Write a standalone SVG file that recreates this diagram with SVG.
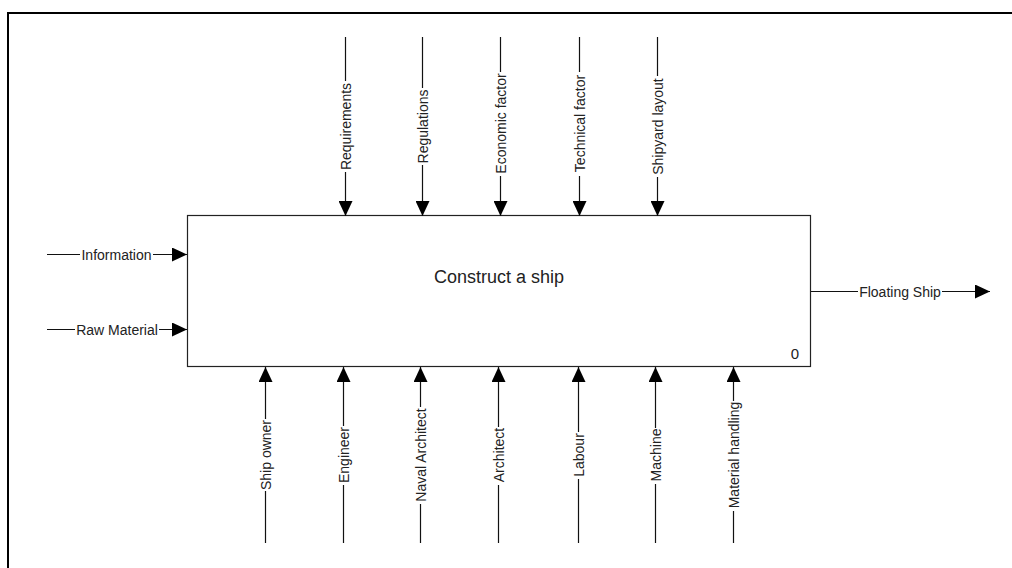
<svg xmlns="http://www.w3.org/2000/svg" width="1012" height="568" viewBox="0 0 1012 568">
  <style>
    .frame { fill: none; stroke: #000; stroke-width: 2; }
    .box { fill: #fff; stroke: #222; stroke-width: 1.2; }
    .flow { fill: none; stroke: #111; stroke-width: 1.2; marker-end: url(#head); }
    .bg { fill: #fff; stroke: none; }
    .lbl { font-family: "Liberation Sans", Arial, sans-serif; font-size: 14px; fill: #222; text-anchor: middle; }
    .title { font-family: "Liberation Sans", Arial, sans-serif; font-size: 18px; fill: #222; text-anchor: middle; }
    .num { font-family: "Liberation Sans", Arial, sans-serif; font-size: 15px; fill: #222; text-anchor: middle; }
  </style>
  <defs>
    <marker id="head" markerUnits="userSpaceOnUse" markerWidth="15" markerHeight="14" refX="15" refY="7" orient="auto">
      <path d="M0,0 L15,7 L0,14 z" fill="#000"/>
    </marker>
  </defs>

  <rect x="0" y="0" width="1012" height="568" fill="#fff"/>
  <!-- page frame (runs off the right and bottom edges) -->
  <rect class="frame" x="8" y="13" width="1100" height="620"/>

  <!-- activity box -->
  <g id="node-construct">
    <rect class="box" x="187.5" y="215.5" width="623" height="151"/>
    <text class="title" x="499" y="283">Construct a ship</text>
    <text class="num" x="795" y="359">0</text>
  </g>

  <g id="connectors">
    <!-- inputs -->
    <g id="in-information">
      <line class="flow" x1="47" y1="254.5" x2="187" y2="254.5"/>
      <rect class="bg" x="80" y="247" width="73" height="15"/>
      <text class="lbl" x="116.5" y="259.5">Information</text>
    </g>
    <g id="in-raw-material">
      <line class="flow" x1="47" y1="329.5" x2="187" y2="329.5"/>
      <rect class="bg" x="75" y="322" width="84" height="15"/>
      <text class="lbl" x="117" y="334.5">Raw Material</text>
    </g>

    <!-- output -->
    <g id="out-floating-ship">
      <line class="flow" x1="811" y1="291.5" x2="990" y2="291.5"/>
      <rect class="bg" x="858" y="284" width="84" height="15"/>
      <text class="lbl" x="900" y="296.5">Floating Ship</text>
    </g>

    <!-- controls (from above) -->
    <g id="ctl-requirements">
      <line class="flow" x1="345.5" y1="37" x2="345.5" y2="216"/>
      <rect class="bg" x="338" y="81" width="15" height="91"/>
      <text class="lbl" transform="translate(345.5,126.5) rotate(-90)" y="5">Requirements</text>
    </g>
    <g id="ctl-regulations">
      <line class="flow" x1="422.5" y1="37" x2="422.5" y2="216"/>
      <rect class="bg" x="415" y="88" width="15" height="77"/>
      <text class="lbl" transform="translate(422.5,126.5) rotate(-90)" y="5">Regulations</text>
    </g>
    <g id="ctl-economic">
      <line class="flow" x1="500.5" y1="37" x2="500.5" y2="216"/>
      <rect class="bg" x="493" y="72" width="15" height="104"/>
      <text class="lbl" transform="translate(500.5,123.5) rotate(-90)" y="5">Economic factor</text>
    </g>
    <g id="ctl-technical">
      <line class="flow" x1="579.5" y1="37" x2="579.5" y2="216"/>
      <rect class="bg" x="572" y="72" width="15" height="104"/>
      <text class="lbl" transform="translate(579.5,123.5) rotate(-90)" y="5">Technical factor</text>
    </g>
    <g id="ctl-shipyard">
      <line class="flow" x1="657.5" y1="37" x2="657.5" y2="216"/>
      <rect class="bg" x="650" y="76" width="15" height="101"/>
      <text class="lbl" transform="translate(657.5,126.5) rotate(-90)" y="5">Shipyard layout</text>
    </g>

    <!-- mechanisms (from below) -->
    <g id="mech-ship-owner">
      <line class="flow" x1="265.5" y1="543" x2="265.5" y2="367"/>
      <rect class="bg" x="258" y="419" width="15" height="72"/>
      <text class="lbl" transform="translate(265.5,455) rotate(-90)" y="5">Ship owner</text>
    </g>
    <g id="mech-engineer">
      <line class="flow" x1="343.5" y1="543" x2="343.5" y2="367"/>
      <rect class="bg" x="336" y="426" width="15" height="59"/>
      <text class="lbl" transform="translate(343.5,455) rotate(-90)" y="5">Engineer</text>
    </g>
    <g id="mech-naval-architect">
      <line class="flow" x1="420.5" y1="543" x2="420.5" y2="367"/>
      <rect class="bg" x="413" y="407" width="15" height="97"/>
      <text class="lbl" transform="translate(420.5,455) rotate(-90)" y="5">Naval Architect</text>
    </g>
    <g id="mech-architect">
      <line class="flow" x1="498.5" y1="543" x2="498.5" y2="367"/>
      <rect class="bg" x="491" y="427" width="15" height="58"/>
      <text class="lbl" transform="translate(498.5,455) rotate(-90)" y="5">Architect</text>
    </g>
    <g id="mech-labour">
      <line class="flow" x1="578.5" y1="543" x2="578.5" y2="367"/>
      <rect class="bg" x="571" y="432" width="15" height="47"/>
      <text class="lbl" transform="translate(578.5,455) rotate(-90)" y="5">Labour</text>
    </g>
    <g id="mech-machine">
      <line class="flow" x1="655.5" y1="543" x2="655.5" y2="367"/>
      <rect class="bg" x="648" y="428" width="15" height="56"/>
      <text class="lbl" transform="translate(655.5,455) rotate(-90)" y="5">Machine</text>
    </g>
    <g id="mech-material-handling">
      <line class="flow" x1="733.5" y1="543" x2="733.5" y2="367"/>
      <rect class="bg" x="726" y="401" width="15" height="110"/>
      <text class="lbl" transform="translate(733.5,455) rotate(-90)" y="5">Material handling</text>
    </g>
  </g>
</svg>
